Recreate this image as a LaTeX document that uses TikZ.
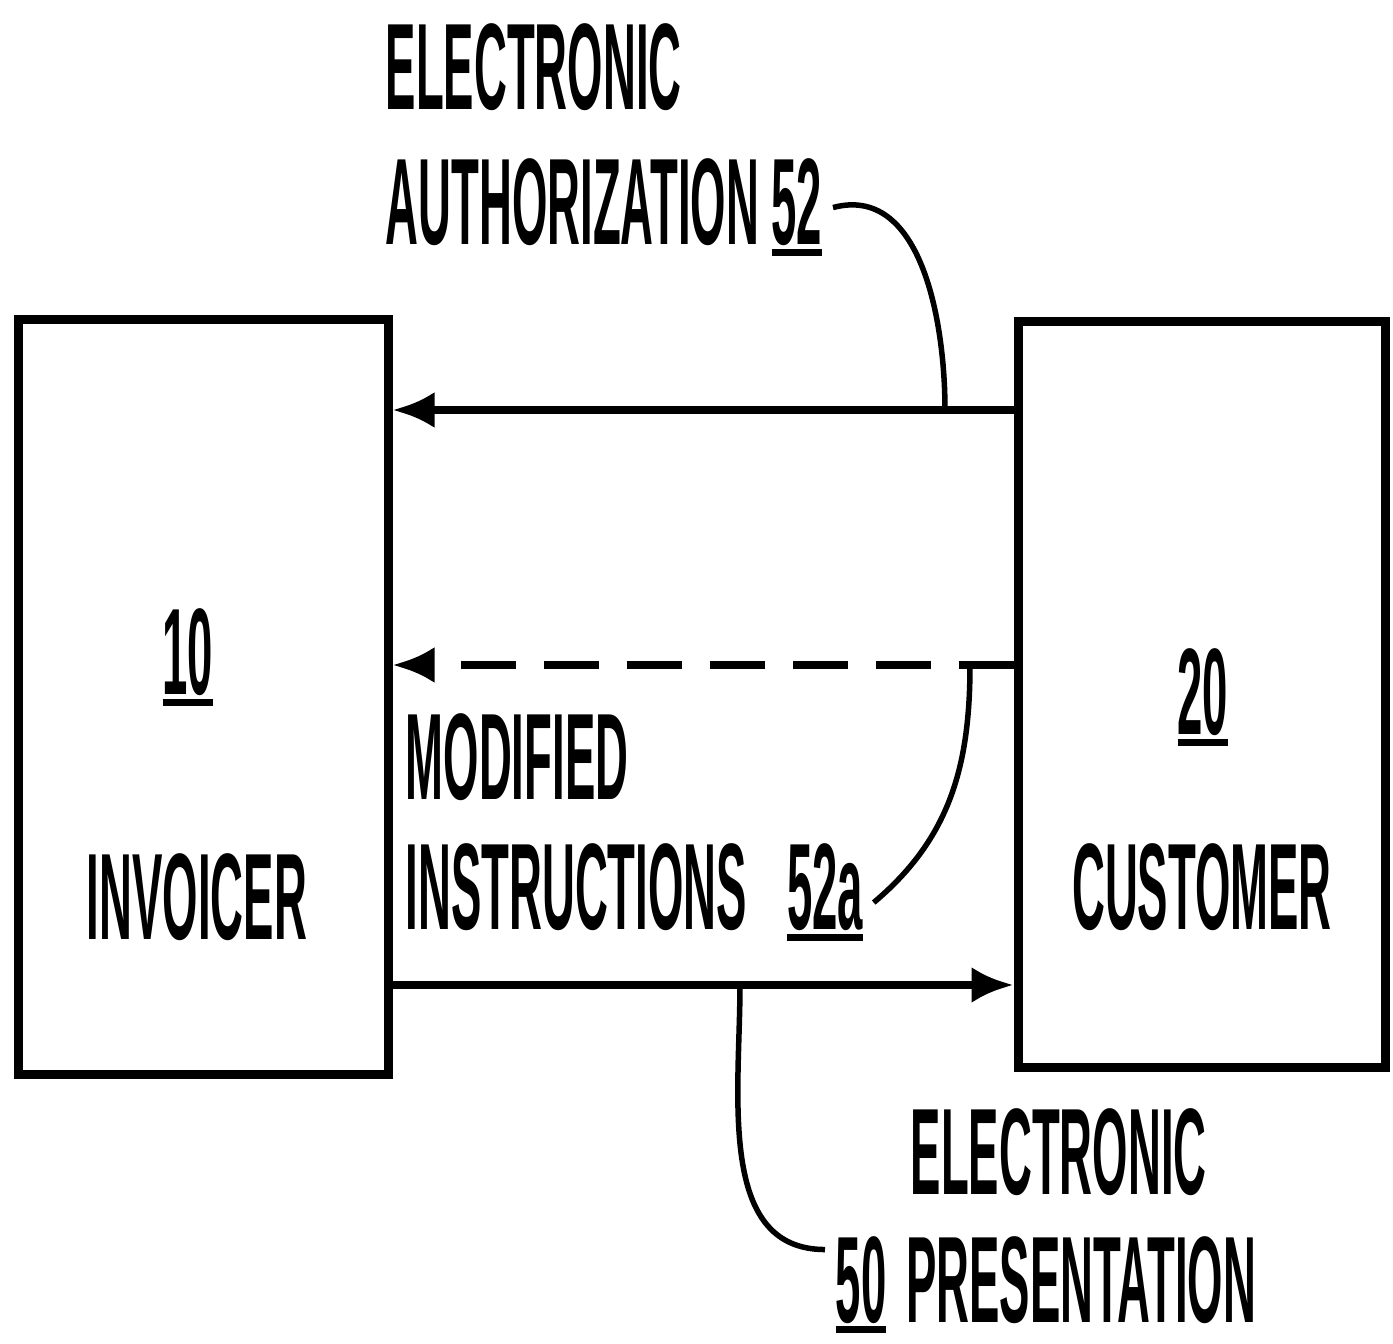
\documentclass[tikz,border=0pt]{standalone}
\usepackage{fontspec}
\usepackage{tikz}
\usetikzlibrary{arrows.meta,positioning}
\newfontfamily\patfont[FakeStretch=0.37]{Liberation Sans}
\newcommand\refnum[1]{\setbox0\hbox{#1}\rlap{\rule[-1.1mm]{\wd0}{0.7mm}}\box0}

\begin{document}
\begin{tikzpicture}[
 box/.style={draw,line width=0.9mm,minimum width=3.7cm,minimum height=7.55cm},
 lbl/.style={font=\patfont\bfseries\fontsize{35}{38}\selectfont,inner sep=1mm},
 arr/.style={-{Latex[length=4.2mm,width=3.6mm]},line width=0.8mm},
 lead/.style={line width=0.55mm}]
\useasboundingbox (0,0) rectangle (13.93,13.44);
\node[box] (inv) at (2.03,6.465) {};
\node[box,minimum width=3.67cm,minimum height=7.46cm] (cus) at (12.015,6.49) {};
\node[lbl,anchor=base] (n10) at (1.88,6.49) {\refnum{10}};
\node[lbl,anchor=base] (invtxt) at (1.97,4.04) {INVOICER};
\node[lbl,anchor=base] (n20) at (12.03,6.09) {\refnum{20}};
\node[lbl,anchor=base] (custxt) at (12.02,4.14) {CUSTOMER};
\node[lbl,anchor=base west] (elec) at (3.75,12.34) {ELECTRONIC};
\node[lbl,anchor=base west] (auth) at (3.75,10.99) {AUTHORIZATION \refnum{52}};
\node[lbl,anchor=base west] (modif) at (3.95,5.44) {MODIFIED};
\node[lbl,anchor=base west] (instr) at (3.95,4.14) {INSTRUCTIONS\hspace{4mm}\refnum{52a}};
\node[lbl,anchor=base west] (elec2) at (9.00,1.49) {ELECTRONIC};
\node[lbl,anchor=base west] (pres) at (8.25,0.22) {\refnum{50}\hspace{2mm}PRESENTATION};
\coordinate (a52) at (9.45,9.34);
\coordinate (a52a) at (9.70,6.79);
\coordinate (a50) at (7.40,3.59);
\draw[arr] (cus.west |- a52) -- (inv.east |- a52);
\draw[arr,dash pattern=on 5.5mm off 2.8mm] (cus.west |- a52a) -- (inv.east |- a52a);
\draw[arr] (inv.east |- a50) -- (cus.west |- a50);
\draw[lead] (auth.east) to[out=15,in=90] (a52);
\draw[lead] ([yshift=-1mm]instr.east) to[out=40,in=-90] (a52a);
\draw[lead] ([yshift=3.5mm]pres.west) to[out=180,in=-90] (a50);
\end{tikzpicture}
\end{document}
